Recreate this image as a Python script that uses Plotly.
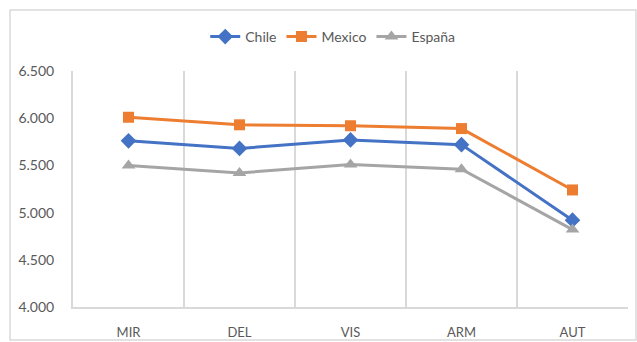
import plotly.graph_objects as go

categories = ["MIR", "DEL", "VIS", "ARM", "AUT"]
chile = [5.76, 5.68, 5.77, 5.72, 4.92]
mexico = [6.01, 5.93, 5.92, 5.89, 5.24]
espana = [5.50, 5.42, 5.51, 5.46, 4.82]
y_ticks = [4.0, 4.5, 5.0, 5.5, 6.0, 6.5]

series = [
    ("Chile", chile, "#4472C4", "diamond", 12),
    ("Mexico", mexico, "#ED7D31", "square", 11),
    ("España", espana, "#A5A5A5", "triangle-up", 12),
]

fig = go.Figure()
for name, vals, color, sym, size in series:
    fig.add_trace(go.Scatter(
        x=categories, y=vals, name=name, mode="lines+markers",
        line=dict(color=color, width=3),
        marker=dict(symbol=sym, size=size, color=color),
    ))

fig.update_layout(
    width=637, height=342,
    margin=dict(l=73, r=9, t=71, b=35, autoexpand=False),
    paper_bgcolor="white", plot_bgcolor="white",
    font=dict(family="Lato", size=13, color="#595959"),
    showlegend=True,
    legend=dict(orientation="h", x=0.468, xanchor="center", y=1.144, yanchor="middle",
                font=dict(size=14, color="#595959"), itemwidth=30, tracegroupgap=0),
    xaxis=dict(
        type="category", range=[-0.5, 4.5], tickson="boundaries",
        showgrid=True, gridcolor="#D9D9D9", gridwidth=2,
        showline=True, linecolor="#D9D9D9", linewidth=2,
        ticks="", ticklabelstandoff=12, tickfont=dict(size=13, color="#595959"),
        zeroline=False, automargin=False,
    ),
    yaxis=dict(
        range=[4.0, 6.5], tickvals=y_ticks, tickformat=".3f",
        showgrid=False, showline=True, linecolor="#D9D9D9", linewidth=2,
        ticks="", ticklabelstandoff=14, tickfont=dict(size=14, color="#595959"),
        zeroline=False, automargin=False,
    ),
    shapes=[dict(type="rect", xref="paper", yref="paper",
                 x0=-0.1135, x1=1.0144, y0=-0.14, y1=1.258,
                 line=dict(color="#D9D9D9", width=1.5), layer="below")],
)

fig.write_html("out.html")
